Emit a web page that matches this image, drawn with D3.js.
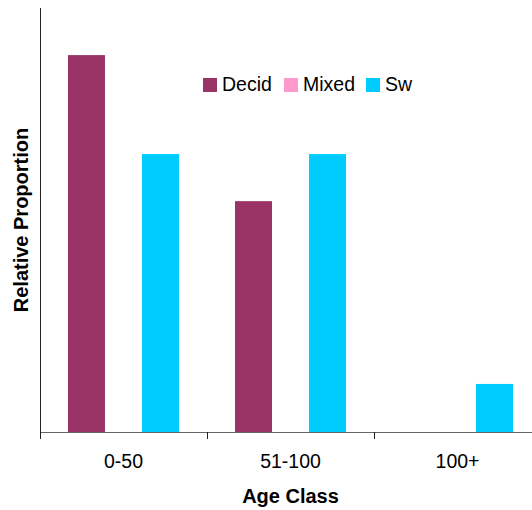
<!DOCTYPE html>
<html>
  <head>
    <meta http-equiv="Content-Type" content="text/html;charset=utf-8"/>
    <script type="text/javascript" src="https://cdn.jsdelivr.net/npm/d3@7"></script>
    <style type="text/css">
      body { margin: 0; background: #fff; }
      text {
        font-family: "Liberation Sans", Arial, Helvetica, sans-serif;
        fill: #000;
      }
      .title { font-weight: bold; font-size: 20px; }
      .tick-label { font-size: 19.5px; }
      .legend text { font-size: 19.5px; }
    </style>
  </head>
  <body>
    <svg id="con"></svg>
    <script type="text/javascript">

    var categories = ["0-50", "51-100", "100+"];
    var seriesNames = ["Decid", "Mixed", "Sw"];
    var seriesColors = ["#993366", "#FF99CC", "#00CCFF"];
    var decid = [0.40, 0.245, 0];
    var mixed = [0, 0, 0];
    var sw = [0.295, 0.295, 0.051];
    var yMax = 0.45;

    var w = 532, h = 510;
    var plotLeft = 40, plotTop = 8, plotBottom = 432, plotRight = 541;

    var svg = d3.select("#con").attr("width", w).attr("height", h);

    var rows = categories.map(function(c, i) {
      return { cat: c, values: [decid[i], mixed[i], sw[i]] };
    });

    var x0 = d3.scaleBand().domain(categories).range([plotLeft, plotRight]).padding(0);
    var x1 = d3.scaleBand().domain(seriesNames).range([0, x0.bandwidth()])
        .paddingInner(0).paddingOuter(0.757);
    var y = d3.scaleLinear().domain([0, yMax]).range([plotBottom, plotTop]);
    var color = d3.scaleOrdinal().domain(seriesNames).range(seriesColors);

    // bars
    var group = svg.selectAll("g.cat").data(rows).enter().append("g")
        .attr("class", "cat")
        .attr("transform", function(d) { return "translate(" + x0(d.cat) + ",0)"; });
    group.selectAll("rect")
        .data(function(d) { return d.values.map(function(v, i) { return { name: seriesNames[i], v: v }; }); })
        .enter().append("rect")
        .attr("x", function(d) { return x1(d.name); })
        .attr("y", function(d) { return y(d.v); })
        .attr("width", x1.bandwidth())
        .attr("height", function(d) { return plotBottom - y(d.v); })
        .style("fill", function(d) { return color(d.name); });

    // y axis line
    svg.append("line")
        .attr("x1", plotLeft + 0.5).attr("x2", plotLeft + 0.5)
        .attr("y1", y(yMax)).attr("y2", plotBottom)
        .style("stroke", "#222").style("stroke-width", 1);

    // x axis
    svg.append("line")
        .attr("x1", plotLeft).attr("x2", plotRight)
        .attr("y1", plotBottom + 0.5).attr("y2", plotBottom + 0.5)
        .style("stroke", "#666").style("stroke-width", 1);
    var tickPos = categories.map(function(c) { return x0(c); }).concat([plotRight]);
    svg.selectAll("line.tk").data(tickPos).enter().append("line")
        .attr("class", "tk")
        .attr("x1", function(d) { return Math.round(d) + 0.5; })
        .attr("x2", function(d) { return Math.round(d) + 0.5; })
        .attr("y1", plotBottom).attr("y2", plotBottom + 7)
        .style("stroke", "#222");
    svg.selectAll("text.tick-label").data(categories).enter().append("text")
        .attr("class", "tick-label")
        .attr("x", function(d) { return x0(d) + x0.bandwidth() / 2; })
        .attr("y", 468)
        .attr("text-anchor", "middle")
        .text(function(d) { return d; });

    // titles
    svg.append("text").attr("class", "title")
        .attr("x", (plotLeft + plotRight) / 2).attr("y", 503)
        .attr("text-anchor", "middle")
        .text("Age Class");
    svg.append("text").attr("class", "title")
        .attr("transform", "translate(28," + (plotTop + plotBottom) / 2 + ") rotate(-90)")
        .attr("text-anchor", "middle")
        .text("Relative Proportion");

    // legend
    var legendX = [203, 284, 366];
    var legend = svg.append("g").attr("class", "legend");
    var item = legend.selectAll("g").data(seriesNames).enter().append("g")
        .attr("transform", function(d, i) { return "translate(" + legendX[i] + ",78)"; });
    item.append("rect").attr("width", 14).attr("height", 14)
        .style("fill", function(d) { return color(d); });
    item.append("text").attr("x", 19).attr("y", 13).text(function(d) { return d; });

    </script>
  </body>
</html>
